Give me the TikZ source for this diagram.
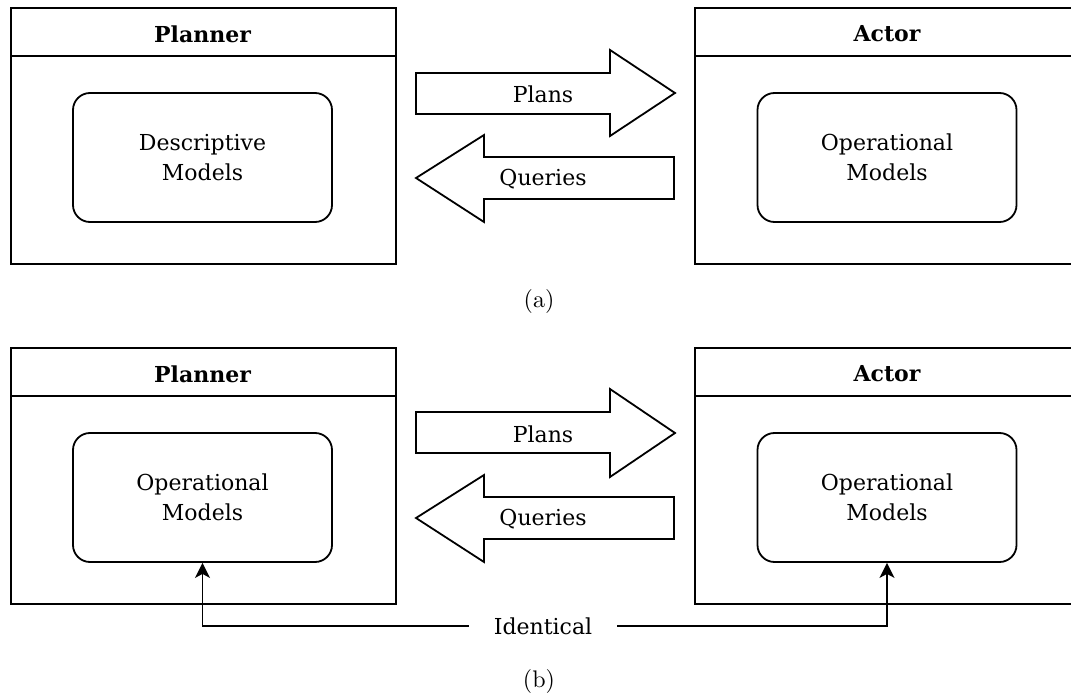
\documentclass[tikz,border=0pt]{standalone}
\usepackage{fontspec}
\newfontfamily\dvs{DejaVu Serif}
\newfontfamily\lmten{lmroman10-regular.otf}
\usetikzlibrary{arrows.meta}
\tikzset{
  lw/.style={line width=1.8pt},
  lane/.style={draw, lw, minimum width=385pt, minimum height=256pt, anchor=north west, inner sep=0pt},
  model/.style={draw, lw, rounded corners=17pt, minimum width=259pt, minimum height=129pt, align=center, font=\dvs\fontsize{22}{30}\selectfont},
  hdr/.style={font=\dvs\bfseries\fontsize{22}{26}\selectfont},
  lbl/.style={font=\dvs\fontsize{22}{26}\selectfont},
  capt/.style={font=\lmten\fontsize{24}{28}\selectfont},
  blk/.style={draw, lw, line join=miter, fill=white},
  conn/.style={lw, -{Stealth[length=15pt,width=15pt,inset=4pt]}},
}
\begin{document}
\begin{tikzpicture}[x=1pt,y=-1pt]
\useasboundingbox (0,0) rectangle (1071,695);
\clip (0,0) rectangle (1071,695);
% ---------- (a)
\node[lane] (P1) at (10,7) {};
\draw[lw] (10,56) -- (395,56);
\node[hdr] (P1h) at (202.5,34) {Planner};
\node[model] (D1) at (202.5,157.5) {Descriptive\\Models};

\node[lane] (A1) at (694,7) {};
\draw[lw] (694,56) -- (1079,56);
\node[hdr] (A1h) at (887,34) {Actor};
\node[model] (O1) at (887,157.5) {Operational\\Models};

\draw[blk] (416,73) -- (610,73) -- (610,50) -- (675,93) -- (610,136) -- (610,114) -- (416,114) -- cycle;
\node[lbl] (pl1) at (543,94) {Plans};
\draw[blk] (674,157) -- (484,157) -- (484,135) -- (416,178) -- (484,222) -- (484,199) -- (674,199) -- cycle;
\node[lbl] (qu1) at (543,179) {Queries};

\node[capt] (ca) at (539,301) {(a)};

% ---------- (b)
\node[lane] (P2) at (10,347) {};
\draw[lw] (10,396) -- (395,396);
\node[hdr] (P2h) at (202.5,374) {Planner};
\node[model] (O2) at (202.5,497.5) {Operational\\Models};

\node[lane] (A2) at (694,347) {};
\draw[lw] (694,396) -- (1079,396);
\node[hdr] (A2h) at (887,374) {Actor};
\node[model] (O3) at (887,497.5) {Operational\\Models};

\draw[blk] (416,412) -- (610,412) -- (610,389) -- (675,433) -- (610,477) -- (610,453) -- (416,453) -- cycle;
\node[lbl] (pl2) at (543,434) {Plans};
\draw[blk] (674,497) -- (484,497) -- (484,475) -- (416,518) -- (484,562) -- (484,539) -- (674,539) -- cycle;
\node[lbl] (qu2) at (543,519) {Queries};

\node[lbl, inner xsep=25pt] (id) at (543,626) {Identical};
\draw[conn] (id.west) -| (O2.south);
\draw[conn] (id.east) -| (O3.south);

\node[capt] (cb) at (539,681) {(b)};
\end{tikzpicture}
\end{document}
